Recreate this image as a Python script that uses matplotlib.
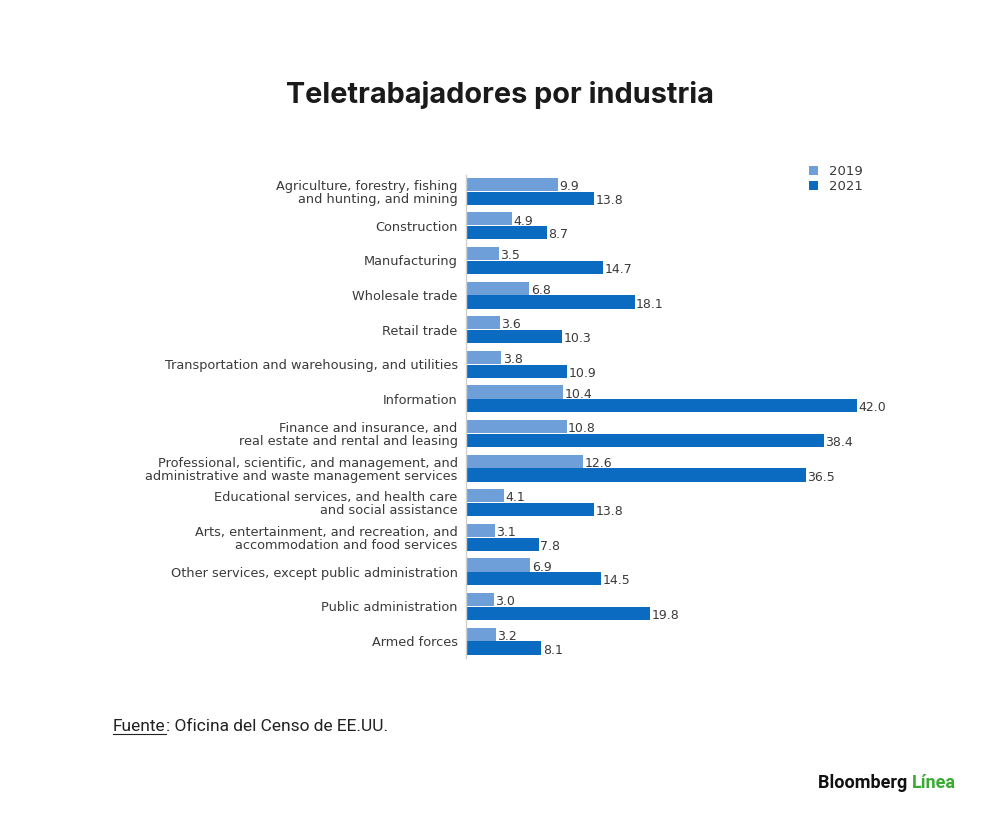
import matplotlib.pyplot as plt
import numpy as np

categories = [
    "Agriculture, forestry, fishing\nand hunting, and mining",
    "Construction",
    "Manufacturing",
    "Wholesale trade",
    "Retail trade",
    "Transportation and warehousing, and utilities",
    "Information",
    "Finance and insurance, and\nreal estate and rental and leasing",
    "Professional, scientific, and management, and\nadministrative and waste management services",
    "Educational services, and health care\nand social assistance",
    "Arts, entertainment, and recreation, and\naccommodation and food services",
    "Other services, except public administration",
    "Public administration",
    "Armed forces",
]
values_2019 = [9.9, 4.9, 3.5, 6.8, 3.6, 3.8, 10.4, 10.8, 12.6, 4.1, 3.1, 6.9, 3.0, 3.2]
values_2021 = [13.8, 8.7, 14.7, 18.1, 10.3, 10.9, 42.0, 38.4, 36.5, 13.8, 7.8, 14.5, 19.8, 8.1]
series_labels = ["2019", "2021"]

color_2019 = "#6e9fd9"
color_2021 = "#0a6bc1"
text_color = "#3a3a3a"
label_font = "DejaVu Sans"

fig = plt.figure(figsize=(10, 8.27), dpi=100)
ax = fig.add_axes([0.466, 0.2043, 0.4655, 0.5837])

y = np.arange(len(categories))
h = 0.38
off = 0.2
b1 = ax.barh(y - off, values_2019, height=h, color=color_2019, label=series_labels[0])
b2 = ax.barh(y + off, values_2021, height=h, color=color_2021, label=series_labels[1])

for bars, vals in ((b1, values_2019), (b2, values_2021)):
    for bar, v in zip(bars, vals):
        ax.text(bar.get_width() + 0.15, bar.get_y() + bar.get_height() / 2 + 0.06,
                f"{v:.1f}", va="center", ha="left", fontsize=9,
                color=text_color, family=label_font)

ax.set_xlim(0, 50)
ax.set_ylim(13.49, -0.46)
ax.set_yticks(y)
ax.set_yticklabels(categories, fontsize=9.3, color=text_color, family=label_font,
                   linespacing=1.0)
ax.tick_params(axis="y", length=0, pad=6)
ax.set_xticks([])
for s in ["top", "right", "bottom"]:
    ax.spines[s].set_visible(False)
ax.spines["left"].set_color("#d0d0d0")
ax.spines["left"].set_linewidth(1)

leg = fig.legend(handles=[b1, b2], labels=series_labels, loc="upper left",
                 bbox_to_anchor=(0.797, 0.815), frameon=False,
                 handlelength=0.7, handleheight=0.7, handletextpad=0.8,
                 labelspacing=0.15, prop={"family": label_font, "size": 9.5})
for t in leg.get_texts():
    t.set_color(text_color)

fig.text(0.5, 0.885, "Teletrabajadores por industria", ha="center", va="center",
         fontsize=20.8, fontweight="bold", family="Inter", color="#1a1a1a")

# footer: source with underlined "Fuente"
fig.canvas.draw()
renderer = fig.canvas.get_renderer()
inv = fig.transFigure.inverted()

src = fig.text(0.113, 0.121, "Fuente", ha="left", va="center", fontsize=12.5,
               family="Roboto", color="#222222")
bb = inv.transform_bbox(src.get_window_extent(renderer))
fig.add_artist(plt.Line2D([bb.x0, bb.x1], [bb.y0 + 0.001, bb.y0 + 0.001],
                          color="#222222", lw=0.8))
fig.text(bb.x1, 0.121, ": Oficina del Censo de EE.UU.", ha="left", va="center",
         fontsize=12.5, family="Roboto", color="#222222")

brand = fig.text(0.818, 0.053, "Bloomberg ", ha="left", va="center", fontsize=13,
                 fontweight="bold", family="Roboto", color="#111111")
bb2 = inv.transform_bbox(brand.get_window_extent(renderer))
fig.text(bb2.x1, 0.053, "Línea", ha="left", va="center", fontsize=13,
         fontweight="bold", family="Roboto", color="#3aaa35")

fig.savefig("out.png", dpi=100, facecolor="white")
